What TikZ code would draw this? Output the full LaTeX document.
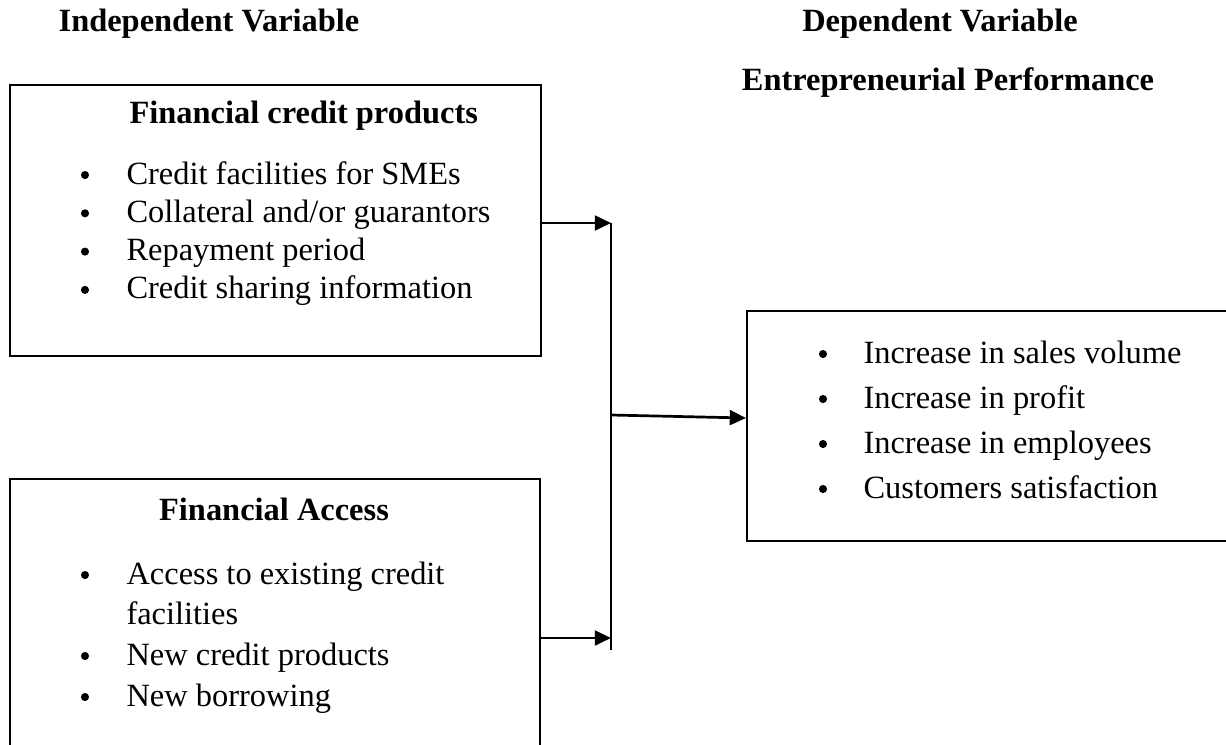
\documentclass[tikz,border=0pt]{standalone}
\usepackage{fontspec}
\setmainfont{Liberation Serif}
\usetikzlibrary{arrows.meta}
\begin{document}
\begin{tikzpicture}[x=0.37pt,y=-0.37pt,
  box/.style={draw=black,line width=0.75pt,inner sep=0pt,anchor=north west},
  txt/.style={font=\fontsize{12pt}{13.8pt}\selectfont,inner sep=0pt,anchor=base west},
  head/.style={font=\fontsize{12pt}{13.8pt}\selectfont\bfseries,inner sep=0pt,anchor=base},
  dot/.style={circle,fill=black,inner sep=0pt,minimum size=3pt},
  conn/.style={line width=0.8pt},
  arr/.style={line width=1pt,-{Triangle[length=6pt,width=5.5pt]}}]
\useasboundingbox (0,0) rectangle (1226,744);
% headings
\node[head] (hind) at (209,31) {Independent Variable};
\node[head] (hdep) at (940,31) {Dependent Variable};
\node[head] (hent) at (948,90) {Entrepreneurial Performance};
% top box
\node[box,minimum width=531*0.37pt,minimum height=271*0.37pt] (top) at (9,84) {};
\node[head,anchor=base west] (ttop) at (129,123) {Financial credit products};
\foreach \t [count=\i] in {Credit facilities for SMEs,Collateral and/or guarantors,Repayment period,Credit sharing information}{
  \node[dot] (tb\i) at (85,{184+38.3*(\i-1)-9}) {};
  \node[txt] (tt\i) at (126,{184+38.3*(\i-1)}) {\t};
}
% bottom box
\node[box,minimum width=530*0.37pt,minimum height=300*0.37pt] (bot) at (9,478) {};
\node[head] (tbot) at (274,520) {Financial Access};
\node[dot] (bb1) at (85,575) {};
\node[txt] (bt1) at (126,584) {Access to existing credit};
\node[txt] (bt1b) at (126,624.5) {facilities};
\node[dot] (bb2) at (85,656) {};
\node[txt] (bt2) at (126,665) {New credit products};
\node[dot] (bb3) at (85,697) {};
\node[txt] (bt3) at (126,706) {New borrowing};
% right box
\node[box,minimum width=500*0.37pt,minimum height=230*0.37pt] (res) at (746,310) {};
\foreach \t [count=\i] in {Increase in sales volume,Increase in profit,Increase in employees,Customers satisfaction}{
  \node[dot] (rb\i) at (823,{363+45*(\i-1)-9}) {};
  \node[txt] (rt\i) at (863,{363+45*(\i-1)}) {\t};
}
% connectors
\coordinate (vtop) at (611,223);
\coordinate (vbot) at (611,650);
\coordinate (vmid) at (611,415);
\coordinate (vbarr) at (611,638);
\draw[conn] (vtop) -- (vbot);
\draw[arr] (top.east |- vtop) -- (vtop);
\draw[arr] (bot.east |- vbarr) -- (vbarr);
\draw[arr] (vmid) -- (res.west |- 0,418);
\end{tikzpicture}
\end{document}
